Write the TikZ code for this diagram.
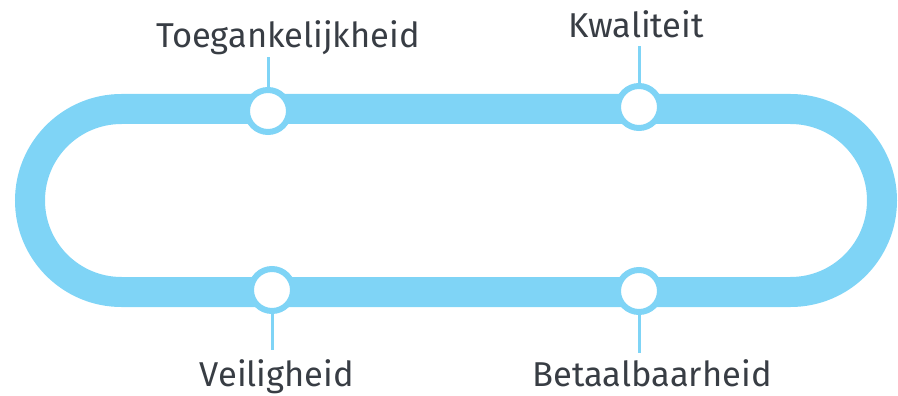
\documentclass[tikz,border=0pt]{standalone}
\usepackage{fontspec}
\setmainfont{Fira Sans}
\usetikzlibrary{positioning}
\definecolor{trackblue}{HTML}{7FD4F6}
\definecolor{labelgrey}{HTML}{383D44}

\begin{document}
\begin{tikzpicture}[x=1pt,y=-1pt,
  stop/.style={circle, draw=trackblue, line width=6pt, fill=white, minimum size=42pt, inner sep=0pt},
  toplabel/.style={anchor=base, inner sep=0pt, text depth=0pt, text=labelgrey, font=\fontsize{34.5}{40}\selectfont},
  botlabel/.style={anchor=north, inner sep=0pt, text height=24pt, text=labelgrey, font=\fontsize{34.5}{40}\selectfont},
  tick/.style={draw=trackblue, line width=3pt}]
\useasboundingbox (0,0) rectangle (898,396);

  % track
  \draw[trackblue, line width=30pt, rounded corners=91.5pt] (30,109) rectangle (882,292);

  % stops
  \node[stop] (toeg) at (268,111) {};
  \node[stop] (kwal) at (639,107) {};
  \node[stop] (veil) at (272,290) {};
  \node[stop] (beta) at (639,291) {};

  % labels
  \node[toplabel] (toeglab) at (288,48) {Toegankelijkheid};
  \node[toplabel] (kwallab) at (636,38) {Kwaliteit};
  \node[botlabel] (veillab) at (277,362) {Veiligheid};
  \node[botlabel] (betalab) at (652,362) {Betaalbaarheid};

  % ticks
  \draw[tick, shorten >=9pt] (toeg.north) -- (toeg.north |- toeglab.south);
  \draw[tick, shorten >=8pt] (kwal.north) -- (kwal.north |- kwallab.south);
  \draw[tick, shorten >=12pt] (veil.south) -- (veil.south |- veillab.north);
  \draw[tick, shorten >=9pt] (beta.south) -- (beta.south |- betalab.north);

\end{tikzpicture}
\end{document}
